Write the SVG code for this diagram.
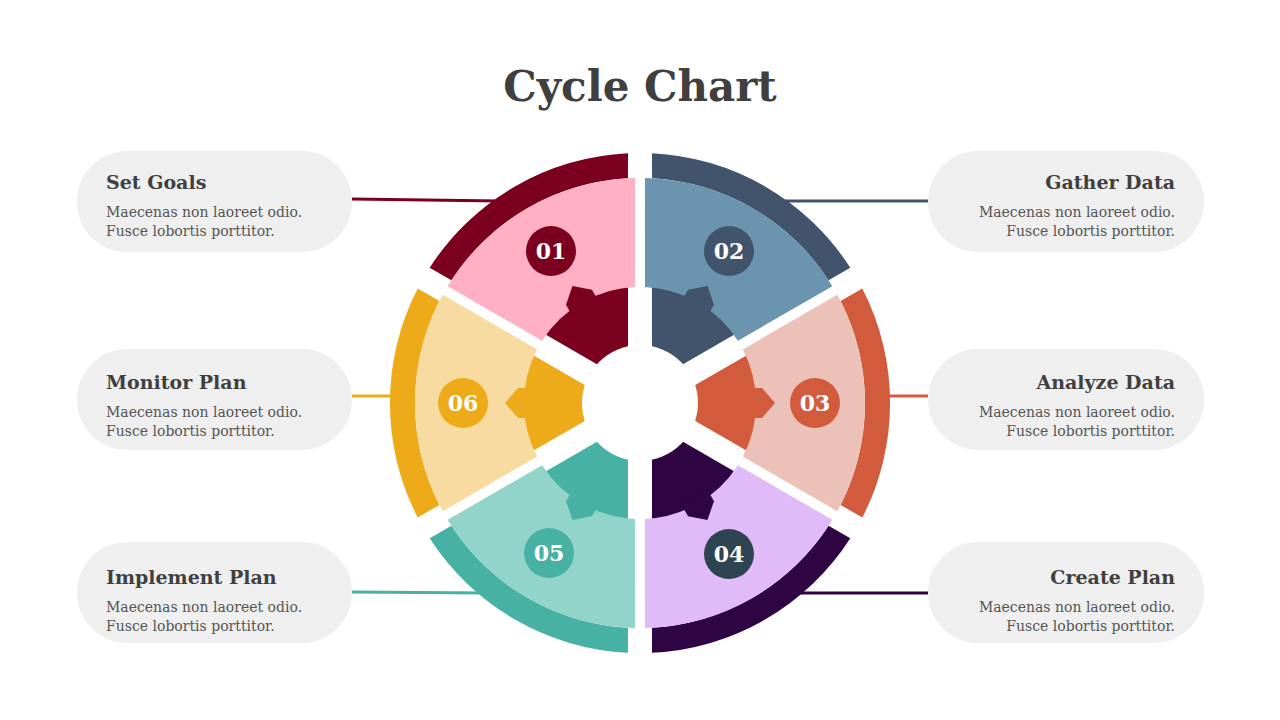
<svg xmlns="http://www.w3.org/2000/svg" width="1280" height="720" viewBox="0 0 1280 720">
<style>
.pill{fill:#efefef}
.h{font-family:"DejaVu Serif","Liberation Serif",serif;font-weight:bold;font-size:19px;fill:#404040}
.b{font-family:"DejaVu Serif","Liberation Serif",serif;font-size:14px;fill:#555}
.n{font-family:"DejaVu Serif","Liberation Serif",serif;font-weight:bold;font-size:22px;fill:#fff;text-anchor:middle}
.c{stroke-width:3;fill:none}
</style>
<defs>
<path id="band" d="M-114.5 -222.3 A250 250 0 0 1 114.5 -222.3 L101.9 -200.6 A225 225 0 0 0 -101.9 -200.6 Z"/>
<path id="inner" d="M0 -24 L54.3 -118.1 A130 130 0 0 0 -54.3 -118.1 Z"/>
<path id="light" d="M-108.2 -197.3 A225 225 0 0 1 108.2 -197.3 L53.6 -102.9 A116 116 0 0 0 -53.6 -102.9 Z"/>
<path id="tab" d="M-15 -108 L-15 -122 L0 -135 L15 -122 L15 -108 Z"/>
</defs>
<rect width="1280" height="720" fill="#fff"/>
<text x="640" y="101" text-anchor="middle" style="font-family:'DejaVu Serif','Liberation Serif',serif;font-weight:bold;font-size:42px;fill:#3f3f3f">Cycle Chart</text>
<g id="connectors">
<path class="c" stroke="#7B001F" d="M352 199 L500 201"/>
<path class="c" stroke="#42546B" d="M780 201 L928 201"/>
<path class="c" stroke="#D25B3D" d="M885 396 L928 396"/>
<path class="c" stroke="#EDAB1A" d="M352 396 L395 396"/>
<path class="c" stroke="#47B2A4" d="M352 592 L485 593"/>
<path class="c" stroke="#2E0542" d="M795 593 L928 593"/>
</g>
<g id="seg01" transform="translate(640 403) rotate(-30)"><use href="#band" fill="#7B001F"/><use href="#inner" fill="#7B001F"/><use href="#light" fill="#FFB0C4"/><use href="#tab" fill="#7B001F"/></g>
<g id="seg02" transform="translate(640 403) rotate(30)"><use href="#band" fill="#42546B"/><use href="#inner" fill="#42546B"/><use href="#light" fill="#6B94AE"/><use href="#tab" fill="#42546B"/></g>
<g id="seg03" transform="translate(640 403) rotate(90)"><use href="#band" fill="#D25B3D"/><use href="#inner" fill="#D25B3D"/><use href="#light" fill="#ECC1B7"/><use href="#tab" fill="#D25B3D"/></g>
<g id="seg04" transform="translate(640 403) rotate(150)"><use href="#band" fill="#2E0542"/><use href="#inner" fill="#2E0542"/><use href="#light" fill="#E0BBF7"/><use href="#tab" fill="#2E0542"/></g>
<g id="seg05" transform="translate(640 403) rotate(210)"><use href="#band" fill="#47B2A4"/><use href="#inner" fill="#47B2A4"/><use href="#light" fill="#93D4CA"/><use href="#tab" fill="#47B2A4"/></g>
<g id="seg06" transform="translate(640 403) rotate(270)"><use href="#band" fill="#EDAB1A"/><use href="#inner" fill="#EDAB1A"/><use href="#light" fill="#F7DBA1"/><use href="#tab" fill="#EDAB1A"/></g>
<circle cx="640" cy="403" r="58" fill="#fff"/>
<g id="num01"><circle cx="551" cy="251" r="25" fill="#7B001F"/><text class="n" x="551" y="259">01</text></g>
<g id="num02"><circle cx="729" cy="251" r="25" fill="#42546B"/><text class="n" x="729" y="259">02</text></g>
<g id="num03"><circle cx="815" cy="403" r="25" fill="#D25B3D"/><text class="n" x="815" y="411">03</text></g>
<g id="num04"><circle cx="729" cy="554" r="25" fill="#2E4452"/><text class="n" x="729" y="562">04</text></g>
<g id="num05"><circle cx="549" cy="553" r="25" fill="#47B2A4"/><text class="n" x="549" y="561">05</text></g>
<g id="num06"><circle cx="463" cy="403" r="25" fill="#EDAB1A"/><text class="n" x="463" y="411">06</text></g>
<g id="box1"><rect class="pill" x="77" y="151" width="275" height="101" rx="50"/><text class="h" x="106" y="189">Set Goals</text><text class="b" x="106" y="217">Maecenas non laoreet odio.</text><text class="b" x="106" y="236">Fusce lobortis porttitor.</text></g>
<g id="box6"><rect class="pill" x="77" y="349" width="275" height="101" rx="50"/><text class="h" x="106" y="389">Monitor Plan</text><text class="b" x="106" y="417">Maecenas non laoreet odio.</text><text class="b" x="106" y="436">Fusce lobortis porttitor.</text></g>
<g id="box5"><rect class="pill" x="77" y="542" width="275" height="101" rx="50"/><text class="h" x="106" y="584">Implement Plan</text><text class="b" x="106" y="612">Maecenas non laoreet odio.</text><text class="b" x="106" y="631">Fusce lobortis porttitor.</text></g>
<g id="box2"><rect class="pill" x="928" y="151" width="276" height="101" rx="50"/><text class="h" x="1175" y="189" text-anchor="end">Gather Data</text><text class="b" x="1175" y="217" text-anchor="end">Maecenas non laoreet odio.</text><text class="b" x="1175" y="236" text-anchor="end">Fusce lobortis porttitor.</text></g>
<g id="box3"><rect class="pill" x="928" y="349" width="276" height="101" rx="50"/><text class="h" x="1175" y="389" text-anchor="end">Analyze Data</text><text class="b" x="1175" y="417" text-anchor="end">Maecenas non laoreet odio.</text><text class="b" x="1175" y="436" text-anchor="end">Fusce lobortis porttitor.</text></g>
<g id="box4"><rect class="pill" x="928" y="542" width="276" height="101" rx="50"/><text class="h" x="1175" y="584" text-anchor="end">Create Plan</text><text class="b" x="1175" y="612" text-anchor="end">Maecenas non laoreet odio.</text><text class="b" x="1175" y="631" text-anchor="end">Fusce lobortis porttitor.</text></g>
</svg>
